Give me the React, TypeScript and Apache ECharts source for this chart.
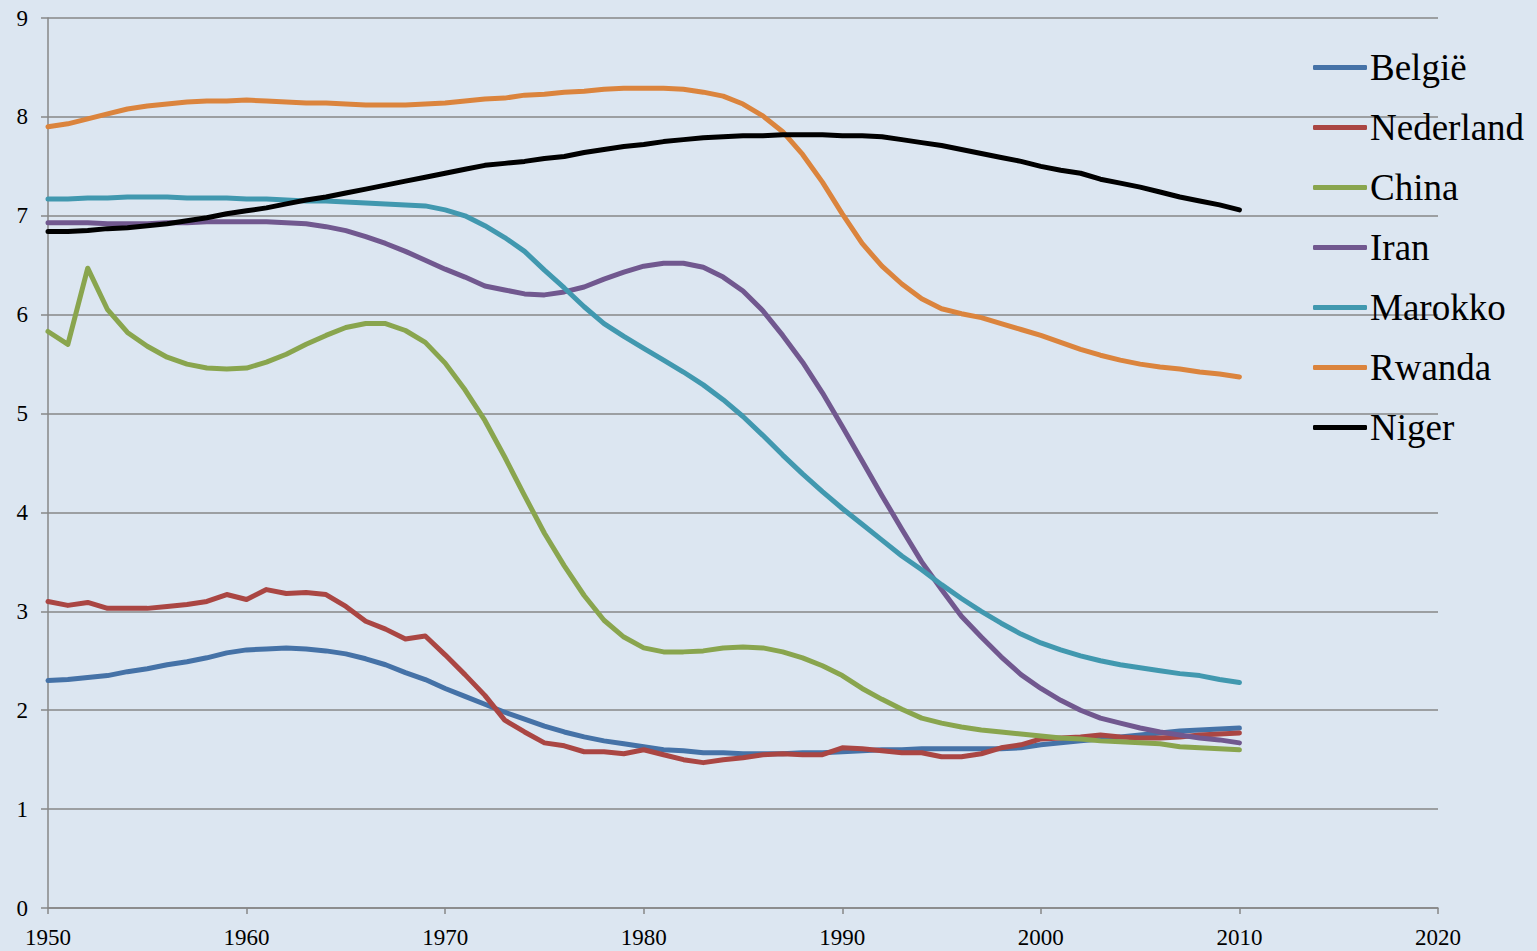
import React, { useEffect, useRef } from "react";
import * as echarts from "echarts";

const years: number[] = [];
for (let y = 1950; y <= 2010; y++) years.push(y);

const xTicks = [1950, 1960, 1970, 1980, 1990, 2000, 2010, 2020];
const yTicks = [0, 1, 2, 3, 4, 5, 6, 7, 8, 9];

const belgie = [
  2.30, 2.31, 2.33, 2.35, 2.39, 2.42, 2.46, 2.49, 2.53, 2.58,
  2.61, 2.62, 2.63, 2.62, 2.60, 2.57, 2.52, 2.46, 2.38, 2.31,
  2.22, 2.14, 2.06, 1.98, 1.91, 1.84, 1.78, 1.73, 1.69, 1.66,
  1.63, 1.60, 1.59, 1.57, 1.57, 1.56, 1.56, 1.56, 1.57, 1.57,
  1.58, 1.59, 1.60, 1.60, 1.61, 1.61, 1.61, 1.61, 1.61, 1.62,
  1.65, 1.67, 1.69, 1.71, 1.73, 1.75, 1.77, 1.79, 1.80, 1.81,
  1.82,
];
const nederland = [
  3.10, 3.06, 3.09, 3.03, 3.03, 3.03, 3.05, 3.07, 3.10, 3.17,
  3.12, 3.22, 3.18, 3.19, 3.17, 3.05, 2.90, 2.82, 2.72, 2.75,
  2.56, 2.36, 2.15, 1.90, 1.78, 1.67, 1.64, 1.58, 1.58, 1.56,
  1.60, 1.55, 1.50, 1.47, 1.50, 1.52, 1.55, 1.56, 1.55, 1.55,
  1.62, 1.61, 1.59, 1.57, 1.57, 1.53, 1.53, 1.56, 1.62, 1.65,
  1.71, 1.72, 1.73, 1.75, 1.73, 1.72, 1.72, 1.73, 1.75, 1.76,
  1.77,
];
const china = [
  5.83, 5.70, 6.47, 6.05, 5.82, 5.68, 5.57, 5.50, 5.46, 5.45,
  5.46, 5.52, 5.60, 5.70, 5.79, 5.87, 5.91, 5.91, 5.84, 5.72,
  5.51, 5.24, 4.93, 4.56, 4.17, 3.79, 3.46, 3.16, 2.91, 2.74,
  2.63, 2.59, 2.59, 2.60, 2.63, 2.64, 2.63, 2.59, 2.53, 2.45,
  2.35, 2.22, 2.11, 2.01, 1.92, 1.87, 1.83, 1.80, 1.78, 1.76,
  1.74, 1.72, 1.71, 1.69, 1.68, 1.67, 1.66, 1.63, 1.62, 1.61,
  1.60,
];
const iran = [
  6.93, 6.93, 6.93, 6.92, 6.92, 6.92, 6.93, 6.93, 6.94, 6.94,
  6.94, 6.94, 6.93, 6.92, 6.89, 6.85, 6.79, 6.72, 6.64, 6.55,
  6.46, 6.38, 6.29, 6.25, 6.21, 6.20, 6.23, 6.28, 6.36, 6.43,
  6.49, 6.52, 6.52, 6.48, 6.38, 6.24, 6.04, 5.79, 5.52, 5.21,
  4.87, 4.52, 4.17, 3.83, 3.50, 3.22, 2.95, 2.74, 2.54, 2.36,
  2.22, 2.10, 2.00, 1.92, 1.87, 1.82, 1.78, 1.75, 1.72, 1.70,
  1.67,
];
const marokko = [
  7.17, 7.17, 7.18, 7.18, 7.19, 7.19, 7.19, 7.18, 7.18, 7.18,
  7.17, 7.17, 7.16, 7.15, 7.15, 7.14, 7.13, 7.12, 7.11, 7.10,
  7.06, 7.00, 6.90, 6.78, 6.64, 6.45, 6.27, 6.08, 5.91, 5.78,
  5.66, 5.54, 5.42, 5.29, 5.14, 4.97, 4.78, 4.58, 4.39, 4.21,
  4.04, 3.88, 3.72, 3.56, 3.42, 3.27, 3.13, 3.00, 2.88, 2.77,
  2.68, 2.61, 2.55, 2.50, 2.46, 2.43, 2.40, 2.37, 2.35, 2.31,
  2.28,
];
const rwanda = [
  7.90, 7.93, 7.98, 8.03, 8.08, 8.11, 8.13, 8.15, 8.16, 8.16,
  8.17, 8.16, 8.15, 8.14, 8.14, 8.13, 8.12, 8.12, 8.12, 8.13,
  8.14, 8.16, 8.18, 8.19, 8.22, 8.23, 8.25, 8.26, 8.28, 8.29,
  8.29, 8.29, 8.28, 8.25, 8.21, 8.13, 8.01, 7.85, 7.62, 7.34,
  7.02, 6.72, 6.49, 6.31, 6.16, 6.06, 6.01, 5.97, 5.91, 5.85,
  5.79, 5.72, 5.65, 5.59, 5.54, 5.50, 5.47, 5.45, 5.42, 5.40,
  5.37,
];
const niger = [
  6.84, 6.84, 6.85, 6.87, 6.88, 6.90, 6.92, 6.95, 6.98, 7.02,
  7.05, 7.08, 7.12, 7.16, 7.19, 7.23, 7.27, 7.31, 7.35, 7.39,
  7.43, 7.47, 7.51, 7.53, 7.55, 7.58, 7.60, 7.64, 7.67, 7.70,
  7.72, 7.75, 7.77, 7.79, 7.80, 7.81, 7.81, 7.82, 7.82, 7.82,
  7.81, 7.81, 7.80, 7.77, 7.74, 7.71, 7.67, 7.63, 7.59, 7.55,
  7.50, 7.46, 7.43, 7.37, 7.33, 7.29, 7.24, 7.19, 7.15, 7.11,
  7.06,
];

const seriesNames = ["België", "Nederland", "China", "Iran", "Marokko", "Rwanda", "Niger"];
const seriesValues = [belgie, nederland, china, iran, marokko, rwanda, niger];
const seriesColors = ["#4572A7", "#AA4643", "#89A54E", "#71588F", "#4198AF", "#DB843D", "#000000"];

const FONT = "'Liberation Serif', 'Times New Roman', serif";
const AXIS_COLOR = "#878787";

export default function App() {
  const ref = useRef<HTMLDivElement>(null);

  useEffect(() => {
    document.body.style.margin = "0";
    if (!ref.current) return;
    const chart = echarts.init(ref.current, null, { renderer: "svg" });
    chart.setOption({
      animation: false,
      backgroundColor: "#DCE6F1",
      textStyle: { fontFamily: FONT },
      grid: { left: 48, right: 99, top: 18, bottom: 43, containLabel: false },
      legend: {
        orient: "vertical",
        left: 1313,
        top: 49,
        padding: 0,
        itemWidth: 54,
        itemHeight: 5,
        itemGap: 23,
        icon: "roundRect",
        textStyle: { fontFamily: FONT, fontSize: 37, color: "#000", lineHeight: 30, padding: [0, 0, 0, -2] },
        data: seriesNames,
        selectedMode: false,
      },
      xAxis: {
        type: "value",
        min: xTicks[0],
        max: xTicks[xTicks.length - 1],
        interval: 10,
        axisLine: { show: true, lineStyle: { color: AXIS_COLOR, width: 1.5 } },
        axisTick: { show: true, length: 6, lineStyle: { color: AXIS_COLOR, width: 1.5 } },
        splitLine: { show: false },
        axisLabel: { fontFamily: FONT, fontSize: 23, color: "#000", margin: 18, formatter: (v: number) => String(v) },
      },
      yAxis: {
        type: "value",
        min: yTicks[0],
        max: yTicks[yTicks.length - 1],
        interval: 1,
        axisLine: { show: true, lineStyle: { color: AXIS_COLOR, width: 1.5 } },
        axisTick: { show: true, length: 7, lineStyle: { color: AXIS_COLOR, width: 1.5 } },
        splitLine: { show: true, lineStyle: { color: AXIS_COLOR, width: 1.5 } },
        axisLabel: { fontFamily: FONT, fontSize: 23, color: "#000", margin: 20 },
      },
      series: seriesNames.map((name, i) => ({
        name,
        type: "line",
        data: years.map((y, j) => [y, seriesValues[i][j]]),
        symbol: "none",
        showSymbol: false,
        smooth: false,
        color: seriesColors[i],
        itemStyle: { color: seriesColors[i] },
        lineStyle: { color: seriesColors[i], width: 5, cap: "round", join: "round" },
        emphasis: { disabled: true },
      })),
    });
    return () => chart.dispose();
  }, []);

  return <div ref={ref} style={{ width: 1537, height: 951 }} />;
}
